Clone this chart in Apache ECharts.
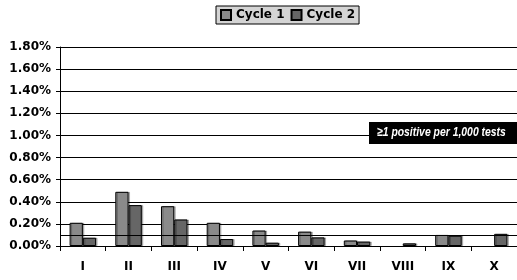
<!DOCTYPE html>
<html><head><meta charset="utf-8">
<script src="https://cdn.jsdelivr.net/npm/echarts@6/dist/echarts.min.js"></script>
<style>html,body{margin:0;padding:0;background:#fff}#c{width:517px;height:280px}</style>
</head><body><div id="c"></div>
<script>
const categories = ['I','II','III','IV','V','VI','VII','VIII','IX','X'];
const cycle1 = [0.21,0.49,0.36,0.21,0.14,0.13,0.05,0,0.10,0];
const cycle2 = [0.075,0.37,0.24,0.063,0.03,0.078,0.04,0.024,0.093,0.11];
const threshold = 0.1;
const thresholdLabel = '≥1 positive per 1,000 tests';
const yTicks = {min:0, max:1.8, interval:0.2};

const font = 'DejaVu Sans, sans-serif';
const chart = echarts.init(document.getElementById('c'), null, {renderer:'canvas'});
const barStyle = (c) => ({color:c, borderColor:'#000', borderWidth:1, shadowColor:'rgba(0,0,0,0.25)', shadowOffsetX:1.5, shadowOffsetY:0, shadowBlur:0});
const prep = arr => arr.map(v => v === 0 ? {value:0, itemStyle:{borderWidth:0, shadowColor:'transparent'}} : v);
chart.setOption({
  animation:false,
  legend:{
    left:216, top:6, padding:[3,4,3,4], itemGap:6,
    backgroundColor:'#d4d4d4', borderColor:'#000', borderWidth:1,
    itemWidth:10, itemHeight:10, icon:'rect',
    textStyle:{fontFamily:font, fontWeight:'bold', fontSize:12, color:'#000'},
    data:['Cycle 1','Cycle 2']
  },
  grid:{left:60, top:47, width:460, height:199, containLabel:false},
  xAxis:{
    type:'category', data:categories,
    axisLine:{lineStyle:{color:'#000', width:1}},
    axisTick:{show:true, alignWithLabel:false, length:5, lineStyle:{color:'#000'}},
    axisLabel:{fontFamily:font, fontWeight:'bold', fontSize:12, color:'#000', margin:15}
  },
  yAxis:{
    type:'value', min:yTicks.min, max:yTicks.max, interval:yTicks.interval,
    axisLine:{show:true, lineStyle:{color:'#000', width:1}},
    axisTick:{show:true, length:4, lineStyle:{color:'#000'}},
    splitLine:{show:true, lineStyle:{color:'#000', width:1}},
    axisLabel:{fontFamily:font, fontWeight:'bold', fontSize:12, color:'#000', margin:9,
      formatter:v=>v.toFixed(2)+'%'}
  },
  series:[
    {name:'Cycle 1', type:'bar', data:prep(cycle1), barGap:'0%', barCategoryGap:'42%',
     itemStyle:barStyle('#8a8a8a'),
     markLine:{silent:true, symbol:'none', label:{show:false},
       lineStyle:{color:'#000', width:1, type:'solid'}, data:[{yAxis:threshold}]}},
    {name:'Cycle 2', type:'bar', data:prep(cycle2), itemStyle:barStyle('#666666')}
  ],
  graphic:[
    {type:'rect', left:369, top:122, shape:{width:150, height:22}, style:{fill:'#000'}, z:100},
    {type:'text', x:377, y:125.5, scaleX:0.8, z:101, style:{text:thresholdLabel, fill:'#fff',
      font:'italic bold 13px "Liberation Sans", Arial, sans-serif'}}
  ]
});
</script></body></html>
